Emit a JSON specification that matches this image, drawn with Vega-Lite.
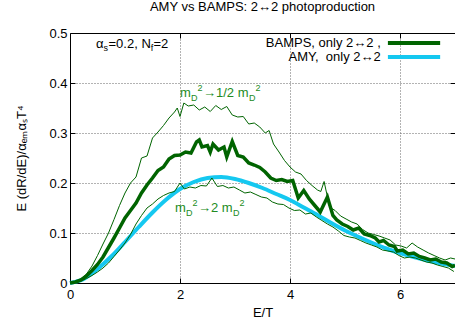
{
  "$schema": "https://vega.github.io/schema/vega-lite/v6.json",
  "width": 385,
  "height": 250,
  "autosize": "none",
  "padding": {"left": 70, "top": 33, "right": 0, "bottom": 38},
  "background": "white",
  "config": {"view": {"stroke": null}, "font": "Liberation Sans"},
  "title": {"text": "AMY vs BAMPS: 2↔2 photoproduction", "fontSize": 13, "fontWeight": "normal", "font": "Liberation Sans", "color": "black", "anchor": "middle", "offset": 13},
  "datasets": {
    "amy": [
      {"E": 0, "v": 0}, {"E": 0.25, "v": 0.008}, {"E": 0.5, "v": 0.028}, {"E": 0.75, "v": 0.053}, {"E": 1.0, "v": 0.082}, {"E": 1.25, "v": 0.112}, {"E": 1.5, "v": 0.141}, {"E": 1.75, "v": 0.167}, {"E": 2.0, "v": 0.188}, {"E": 2.25, "v": 0.202}, {"E": 2.5, "v": 0.210}, {"E": 2.75, "v": 0.212}, {"E": 3.0, "v": 0.208}, {"E": 3.25, "v": 0.200}, {"E": 3.5, "v": 0.190}, {"E": 3.75, "v": 0.178}, {"E": 4.0, "v": 0.166}, {"E": 4.25, "v": 0.151}, {"E": 4.5, "v": 0.136}, {"E": 4.75, "v": 0.120}, {"E": 5.0, "v": 0.105}, {"E": 5.25, "v": 0.092}, {"E": 5.5, "v": 0.080}, {"E": 5.75, "v": 0.069}, {"E": 6.0, "v": 0.060}, {"E": 6.25, "v": 0.052}, {"E": 6.5, "v": 0.045}, {"E": 6.75, "v": 0.039}, {"E": 7.0, "v": 0.034}
    ],
    "bamps": [
      {"E": 0, "v": 0}, {"E": 0.1, "v": 0.002}, {"E": 0.2, "v": 0.006}, {"E": 0.3, "v": 0.014}, {"E": 0.4, "v": 0.025}, {"E": 0.5, "v": 0.037}, {"E": 0.6, "v": 0.052}, {"E": 0.7, "v": 0.071}, {"E": 0.8, "v": 0.09}, {"E": 0.9, "v": 0.11}, {"E": 1.0, "v": 0.13}, {"E": 1.1, "v": 0.145}, {"E": 1.2, "v": 0.16}, {"E": 1.3, "v": 0.18}, {"E": 1.4, "v": 0.196}, {"E": 1.5, "v": 0.21}, {"E": 1.6, "v": 0.225}, {"E": 1.7, "v": 0.232}, {"E": 1.8, "v": 0.248}, {"E": 1.9, "v": 0.255}, {"E": 2.0, "v": 0.256}, {"E": 2.1, "v": 0.262}, {"E": 2.2, "v": 0.26}, {"E": 2.3, "v": 0.282}, {"E": 2.35, "v": 0.286}, {"E": 2.4, "v": 0.272}, {"E": 2.5, "v": 0.275}, {"E": 2.55, "v": 0.262}, {"E": 2.6, "v": 0.278}, {"E": 2.7, "v": 0.266}, {"E": 2.8, "v": 0.272}, {"E": 2.85, "v": 0.252}, {"E": 2.95, "v": 0.283}, {"E": 3.05, "v": 0.255}, {"E": 3.15, "v": 0.252}, {"E": 3.25, "v": 0.24}, {"E": 3.35, "v": 0.236}, {"E": 3.45, "v": 0.231}, {"E": 3.55, "v": 0.222}, {"E": 3.65, "v": 0.21}, {"E": 3.75, "v": 0.205}, {"E": 3.85, "v": 0.207}, {"E": 3.95, "v": 0.203}, {"E": 4.05, "v": 0.205}, {"E": 4.15, "v": 0.17}, {"E": 4.25, "v": 0.185}, {"E": 4.35, "v": 0.168}, {"E": 4.45, "v": 0.155}, {"E": 4.55, "v": 0.142}, {"E": 4.68, "v": 0.172}, {"E": 4.78, "v": 0.135}, {"E": 4.85, "v": 0.126}, {"E": 4.95, "v": 0.118}, {"E": 5.05, "v": 0.113}, {"E": 5.15, "v": 0.106}, {"E": 5.25, "v": 0.11}, {"E": 5.35, "v": 0.098}, {"E": 5.45, "v": 0.095}, {"E": 5.55, "v": 0.09}, {"E": 5.62, "v": 0.082}, {"E": 5.7, "v": 0.085}, {"E": 5.8, "v": 0.076}, {"E": 5.9, "v": 0.073}, {"E": 5.95, "v": 0.064}, {"E": 6.05, "v": 0.066}, {"E": 6.15, "v": 0.058}, {"E": 6.25, "v": 0.06}, {"E": 6.35, "v": 0.053}, {"E": 6.45, "v": 0.05}, {"E": 6.55, "v": 0.046}, {"E": 6.65, "v": 0.048}, {"E": 6.75, "v": 0.042}, {"E": 6.85, "v": 0.04}, {"E": 6.95, "v": 0.033}, {"E": 7.0, "v": 0.035}
    ],
    "up": [
      {"E": 0, "v": 0}, {"E": 0.1, "v": 0.002}, {"E": 0.2, "v": 0.008}, {"E": 0.3, "v": 0.018}, {"E": 0.4, "v": 0.034}, {"E": 0.5, "v": 0.055}, {"E": 0.6, "v": 0.078}, {"E": 0.7, "v": 0.1}, {"E": 0.8, "v": 0.127}, {"E": 0.9, "v": 0.155}, {"E": 1.0, "v": 0.18}, {"E": 1.1, "v": 0.2}, {"E": 1.2, "v": 0.212}, {"E": 1.3, "v": 0.25}, {"E": 1.4, "v": 0.254}, {"E": 1.5, "v": 0.29}, {"E": 1.6, "v": 0.302}, {"E": 1.7, "v": 0.315}, {"E": 1.8, "v": 0.33}, {"E": 1.9, "v": 0.342}, {"E": 1.95, "v": 0.35}, {"E": 2.0, "v": 0.333}, {"E": 2.07, "v": 0.36}, {"E": 2.15, "v": 0.354}, {"E": 2.25, "v": 0.356}, {"E": 2.35, "v": 0.346}, {"E": 2.45, "v": 0.352}, {"E": 2.55, "v": 0.343}, {"E": 2.65, "v": 0.355}, {"E": 2.75, "v": 0.347}, {"E": 2.85, "v": 0.353}, {"E": 2.95, "v": 0.336}, {"E": 3.05, "v": 0.332}, {"E": 3.15, "v": 0.333}, {"E": 3.25, "v": 0.318}, {"E": 3.35, "v": 0.32}, {"E": 3.45, "v": 0.312}, {"E": 3.55, "v": 0.3}, {"E": 3.62, "v": 0.305}, {"E": 3.7, "v": 0.278}, {"E": 3.8, "v": 0.262}, {"E": 3.9, "v": 0.245}, {"E": 4.0, "v": 0.232}, {"E": 4.1, "v": 0.222}, {"E": 4.2, "v": 0.218}, {"E": 4.3, "v": 0.205}, {"E": 4.4, "v": 0.195}, {"E": 4.5, "v": 0.186}, {"E": 4.56, "v": 0.183}, {"E": 4.62, "v": 0.203}, {"E": 4.72, "v": 0.152}, {"E": 4.82, "v": 0.145}, {"E": 4.92, "v": 0.134}, {"E": 5.02, "v": 0.128}, {"E": 5.12, "v": 0.122}, {"E": 5.22, "v": 0.118}, {"E": 5.32, "v": 0.107}, {"E": 5.42, "v": 0.1}, {"E": 5.52, "v": 0.097}, {"E": 5.62, "v": 0.094}, {"E": 5.72, "v": 0.09}, {"E": 5.82, "v": 0.086}, {"E": 5.92, "v": 0.076}, {"E": 6.02, "v": 0.074}, {"E": 6.12, "v": 0.07}, {"E": 6.22, "v": 0.08}, {"E": 6.32, "v": 0.072}, {"E": 6.42, "v": 0.066}, {"E": 6.52, "v": 0.06}, {"E": 6.62, "v": 0.055}, {"E": 6.72, "v": 0.05}, {"E": 6.82, "v": 0.046}, {"E": 6.92, "v": 0.05}, {"E": 7.0, "v": 0.048}
    ],
    "low": [
      {"E": 0, "v": 0}, {"E": 0.1, "v": 0.001}, {"E": 0.2, "v": 0.004}, {"E": 0.3, "v": 0.009}, {"E": 0.4, "v": 0.015}, {"E": 0.5, "v": 0.022}, {"E": 0.6, "v": 0.03}, {"E": 0.7, "v": 0.04}, {"E": 0.8, "v": 0.053}, {"E": 0.9, "v": 0.066}, {"E": 1.0, "v": 0.08}, {"E": 1.1, "v": 0.097}, {"E": 1.2, "v": 0.118}, {"E": 1.3, "v": 0.135}, {"E": 1.4, "v": 0.15}, {"E": 1.5, "v": 0.158}, {"E": 1.6, "v": 0.168}, {"E": 1.7, "v": 0.175}, {"E": 1.8, "v": 0.18}, {"E": 1.9, "v": 0.183}, {"E": 2.0, "v": 0.2}, {"E": 2.08, "v": 0.188}, {"E": 2.18, "v": 0.192}, {"E": 2.28, "v": 0.19}, {"E": 2.38, "v": 0.195}, {"E": 2.48, "v": 0.194}, {"E": 2.58, "v": 0.21}, {"E": 2.68, "v": 0.193}, {"E": 2.78, "v": 0.195}, {"E": 2.88, "v": 0.19}, {"E": 2.98, "v": 0.192}, {"E": 3.08, "v": 0.186}, {"E": 3.18, "v": 0.18}, {"E": 3.28, "v": 0.182}, {"E": 3.38, "v": 0.177}, {"E": 3.48, "v": 0.172}, {"E": 3.58, "v": 0.17}, {"E": 3.68, "v": 0.162}, {"E": 3.78, "v": 0.158}, {"E": 3.88, "v": 0.157}, {"E": 3.98, "v": 0.15}, {"E": 4.08, "v": 0.145}, {"E": 4.18, "v": 0.146}, {"E": 4.28, "v": 0.138}, {"E": 4.38, "v": 0.14}, {"E": 4.48, "v": 0.132}, {"E": 4.58, "v": 0.125}, {"E": 4.68, "v": 0.118}, {"E": 4.78, "v": 0.112}, {"E": 4.88, "v": 0.104}, {"E": 4.98, "v": 0.095}, {"E": 5.08, "v": 0.092}, {"E": 5.18, "v": 0.09}, {"E": 5.28, "v": 0.085}, {"E": 5.38, "v": 0.08}, {"E": 5.48, "v": 0.076}, {"E": 5.58, "v": 0.072}, {"E": 5.68, "v": 0.066}, {"E": 5.78, "v": 0.064}, {"E": 5.88, "v": 0.062}, {"E": 5.98, "v": 0.055}, {"E": 6.08, "v": 0.05}, {"E": 6.18, "v": 0.052}, {"E": 6.28, "v": 0.05}, {"E": 6.38, "v": 0.046}, {"E": 6.48, "v": 0.042}, {"E": 6.58, "v": 0.04}, {"E": 6.68, "v": 0.036}, {"E": 6.78, "v": 0.033}, {"E": 6.88, "v": 0.03}, {"E": 6.98, "v": 0.023}
    ]
  },
  "resolve": {"axis": {"x": "independent", "y": "independent"}},
  "layer": [
    {
      "data": {"name": "amy"},
      "mark": {"type": "line", "opacity": 0},
      "encoding": {
        "x": {"field": "E", "type": "quantitative", "scale": {"domain": [0, 7], "nice": false, "zero": false},
          "axis": {"orient": "top", "values": [2, 4, 6], "labels": false, "title": null, "grid": false, "tickSize": -5, "tickColor": "black", "domainColor": "black"}},
        "y": {"field": "v", "type": "quantitative", "scale": {"domain": [0, 0.5], "nice": false, "zero": false},
          "axis": {"orient": "right", "values": [0.1, 0.2, 0.3, 0.4], "labels": false, "title": null, "grid": false, "tickSize": -5, "tickColor": "black", "domainColor": "black"}}
      }
    },
    {
      "layer": [
        {
          "data": {"name": "amy"},
          "mark": {"type": "line", "stroke": "#15c8f0", "strokeWidth": 4, "interpolate": "monotone"},
          "encoding": {
            "x": {"field": "E", "type": "quantitative", "scale": {"domain": [0, 7], "nice": false, "zero": false},
              "axis": {"orient": "bottom", "values": [0, 2, 4, 6], "labelExpr": "format(datum.value, 'd')", "title": "E/T", "grid": true, "gridDash": [1, 2], "gridColor": "#666",
                "gridOpacity": {"condition": {"test": "datum.value === 0", "value": 0}, "value": 1},
                "tickSize": -5, "tickColor": "black", "domainColor": "black", "labelFontSize": 13, "labelFont": "Liberation Sans", "labelColor": "black", "labelPadding": 10, "labelFlush": false,
                "titleFontSize": 13, "titleFont": "Liberation Sans", "titleFontWeight": "normal", "titleColor": "black", "titlePadding": 5}},
            "y": {"field": "v", "type": "quantitative", "scale": {"domain": [0, 0.5], "nice": false, "zero": false},
              "axis": {"orient": "left", "values": [0, 0.1, 0.2, 0.3, 0.4, 0.5], "title": "E (dR/dE)/αₑₘαₛT⁴", "grid": true, "gridDash": [1, 2], "gridColor": "#666",
                "gridOpacity": {"condition": {"test": "datum.value === 0 || datum.value === 0.5", "value": 0}, "value": 1},
                "labelExpr": "datum.value === 0 ? '0' : format(datum.value, '.1f')",
                "tickSize": -5, "tickColor": "black", "domainColor": "black", "labelFontSize": 13, "labelFont": "Liberation Sans", "labelColor": "black", "labelPadding": 8, "labelFlush": false,
                "titleFontSize": 13, "titleFont": "Liberation Sans", "titleFontWeight": "normal", "titleColor": "black", "titlePadding": 20}}
          }
        },
        {
          "data": {"name": "up"},
          "mark": {"type": "line", "stroke": "#006400", "strokeWidth": 1},
          "encoding": {"x": {"field": "E", "type": "quantitative"}, "y": {"field": "v", "type": "quantitative"}}
        },
        {
          "data": {"name": "low"},
          "mark": {"type": "line", "stroke": "#006400", "strokeWidth": 1},
          "encoding": {"x": {"field": "E", "type": "quantitative"}, "y": {"field": "v", "type": "quantitative"}}
        },
        {
          "data": {"name": "bamps"},
          "mark": {"type": "line", "stroke": "#006400", "strokeWidth": 3.5},
          "encoding": {"x": {"field": "E", "type": "quantitative"}, "y": {"field": "v", "type": "quantitative"}}
        },
        {
          "data": {"values": [{}]},
          "mark": {"type": "rule", "stroke": "#006400", "strokeWidth": 4},
          "encoding": {"x": {"datum": 5.78, "type": "quantitative"}, "x2": {"datum": 6.73}, "y": {"datum": 0.48, "type": "quantitative"}}
        },
        {
          "data": {"values": [{}]},
          "mark": {"type": "rule", "stroke": "#15c8f0", "strokeWidth": 4},
          "encoding": {"x": {"datum": 5.78, "type": "quantitative"}, "x2": {"datum": 6.73}, "y": {"datum": 0.452, "type": "quantitative"}}
        },
        {
          "data": {"values": [{}]},
          "mark": {"type": "text", "text": "BAMPS, only 2↔2 ,", "align": "right", "baseline": "middle", "fontSize": 13, "font": "Liberation Sans", "color": "black"},
          "encoding": {"x": {"datum": 5.65, "type": "quantitative"}, "y": {"datum": 0.48, "type": "quantitative"}}
        },
        {
          "data": {"values": [{}]},
          "mark": {"type": "text", "text": "AMY,\u00a0 only 2↔2", "align": "right", "baseline": "middle", "fontSize": 13, "font": "Liberation Sans", "color": "black"},
          "encoding": {"x": {"datum": 5.65, "type": "quantitative"}, "y": {"datum": 0.452, "type": "quantitative"}}
        },
        {"data": {"values": [{}]}, "mark": {"type": "text", "text": "α", "align": "left", "baseline": "alphabetic", "fontSize": 13, "color": "black"},
          "encoding": {"x": {"datum": 0.473, "type": "quantitative"}, "y": {"datum": 0.47, "type": "quantitative"}}},
        {"data": {"values": [{}]}, "mark": {"type": "text", "text": "s", "align": "left", "baseline": "alphabetic", "fontSize": 9, "color": "black"},
          "encoding": {"x": {"datum": 0.609, "type": "quantitative"}, "y": {"datum": 0.464, "type": "quantitative"}}},
        {"data": {"values": [{}]}, "mark": {"type": "text", "text": "=0.2, N", "align": "left", "baseline": "alphabetic", "fontSize": 13, "color": "black"},
          "encoding": {"x": {"datum": 0.7, "type": "quantitative"}, "y": {"datum": 0.47, "type": "quantitative"}}},
        {"data": {"values": [{}]}, "mark": {"type": "text", "text": "f", "align": "left", "baseline": "alphabetic", "fontSize": 9, "color": "black"},
          "encoding": {"x": {"datum": 1.467, "type": "quantitative"}, "y": {"datum": 0.464, "type": "quantitative"}}},
        {"data": {"values": [{}]}, "mark": {"type": "text", "text": "=2", "align": "left", "baseline": "alphabetic", "fontSize": 13, "color": "black"},
          "encoding": {"x": {"datum": 1.518, "type": "quantitative"}, "y": {"datum": 0.47, "type": "quantitative"}}},
        {"data": {"values": [{}]}, "mark": {"type": "text", "text": "m", "align": "left", "baseline": "alphabetic", "fontSize": 13, "color": "#228b22"},
          "encoding": {"x": {"datum": 2.0, "type": "quantitative"}, "y": {"datum": 0.372, "type": "quantitative"}}},
        {"data": {"values": [{}]}, "mark": {"type": "text", "text": "D", "align": "left", "baseline": "alphabetic", "fontSize": 9, "color": "#228b22"},
          "encoding": {"x": {"datum": 2.2, "type": "quantitative"}, "y": {"datum": 0.365, "type": "quantitative"}}},
        {"data": {"values": [{}]}, "mark": {"type": "text", "text": "2", "align": "left", "baseline": "alphabetic", "fontSize": 9, "color": "#228b22"},
          "encoding": {"x": {"datum": 2.318, "type": "quantitative"}, "y": {"datum": 0.384, "type": "quantitative"}}},
        {"data": {"values": [{}]}, "mark": {"type": "text", "text": "→1/2 m", "align": "left", "baseline": "alphabetic", "fontSize": 13, "color": "#228b22"},
          "encoding": {"x": {"datum": 2.418, "type": "quantitative"}, "y": {"datum": 0.372, "type": "quantitative"}}},
        {"data": {"values": [{}]}, "mark": {"type": "text", "text": "D", "align": "left", "baseline": "alphabetic", "fontSize": 9, "color": "#228b22"},
          "encoding": {"x": {"datum": 3.255, "type": "quantitative"}, "y": {"datum": 0.365, "type": "quantitative"}}},
        {"data": {"values": [{}]}, "mark": {"type": "text", "text": "2", "align": "left", "baseline": "alphabetic", "fontSize": 9, "color": "#228b22"},
          "encoding": {"x": {"datum": 3.373, "type": "quantitative"}, "y": {"datum": 0.384, "type": "quantitative"}}},
        {"data": {"values": [{}]}, "mark": {"type": "text", "text": "m", "align": "left", "baseline": "alphabetic", "fontSize": 13, "color": "#228b22"},
          "encoding": {"x": {"datum": 1.909, "type": "quantitative"}, "y": {"datum": 0.142, "type": "quantitative"}}},
        {"data": {"values": [{}]}, "mark": {"type": "text", "text": "D", "align": "left", "baseline": "alphabetic", "fontSize": 9, "color": "#228b22"},
          "encoding": {"x": {"datum": 2.109, "type": "quantitative"}, "y": {"datum": 0.135, "type": "quantitative"}}},
        {"data": {"values": [{}]}, "mark": {"type": "text", "text": "2", "align": "left", "baseline": "alphabetic", "fontSize": 9, "color": "#228b22"},
          "encoding": {"x": {"datum": 2.227, "type": "quantitative"}, "y": {"datum": 0.154, "type": "quantitative"}}},
        {"data": {"values": [{}]}, "mark": {"type": "text", "text": "→2 m", "align": "left", "baseline": "alphabetic", "fontSize": 13, "color": "#228b22"},
          "encoding": {"x": {"datum": 2.327, "type": "quantitative"}, "y": {"datum": 0.142, "type": "quantitative"}}},
        {"data": {"values": [{}]}, "mark": {"type": "text", "text": "D", "align": "left", "baseline": "alphabetic", "fontSize": 9, "color": "#228b22"},
          "encoding": {"x": {"datum": 2.964, "type": "quantitative"}, "y": {"datum": 0.135, "type": "quantitative"}}},
        {"data": {"values": [{}]}, "mark": {"type": "text", "text": "2", "align": "left", "baseline": "alphabetic", "fontSize": 9, "color": "#228b22"},
          "encoding": {"x": {"datum": 3.082, "type": "quantitative"}, "y": {"datum": 0.154, "type": "quantitative"}}}
      ]
    }
  ]
}
